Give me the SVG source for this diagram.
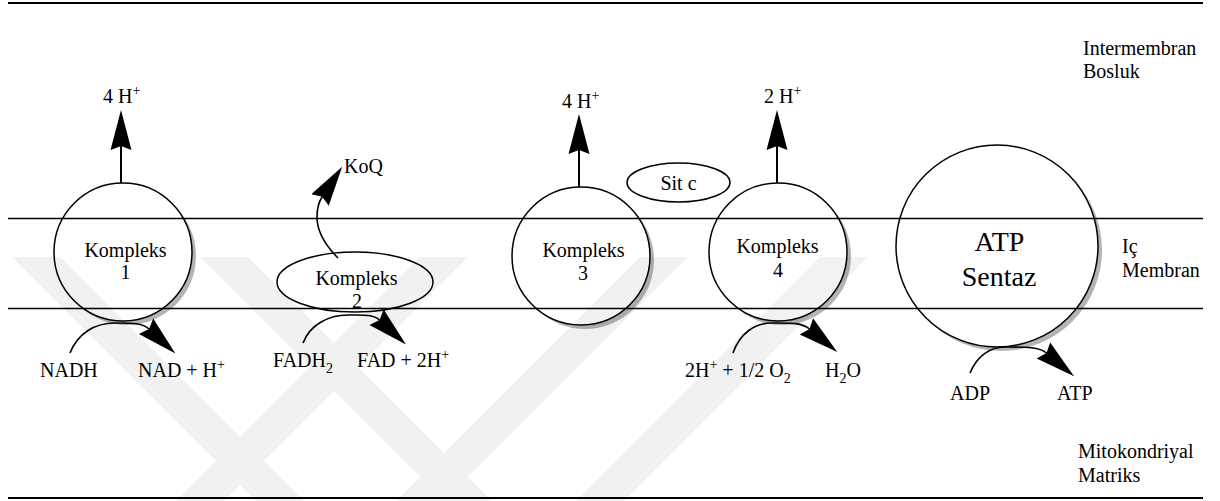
<svg xmlns="http://www.w3.org/2000/svg" width="1220" height="501" viewBox="0 0 1220 501">
  <style>
    text { font-family: 'Liberation Serif', 'Times New Roman', 'DejaVu Serif', serif; font-size: 20px; fill: #000; }
    .big { font-size: 28px; }
    .mid { text-anchor: middle; }
    .sup { font-size: 14px; }
    .rule { stroke: #000; stroke-width: 2; fill: none; }
    .mem { stroke: #000; stroke-width: 1.5; fill: none; }
    .body { fill: #fff; stroke: #000; stroke-width: 1.5; }
    .shade { fill: #b4b4b4; }
    .link { stroke: #000; stroke-width: 1.6; fill: none; marker-end: url(#head); }
    .shaft { stroke: #000; stroke-width: 2; fill: none; marker-end: url(#head); }
  </style>
  <defs>
    <!-- solid arrowhead; the path ends at the notch, the tip sits 36px further on -->
    <marker id="head" markerUnits="userSpaceOnUse" viewBox="0 -12 42 24" markerWidth="42" markerHeight="24" refX="4" refY="0" orient="auto">
      <path d="M40,0 L0,-10.5 L4,0 L0,10.5 Z" fill="#000"/>
    </marker>
  </defs>

  <rect width="1220" height="501" fill="#fff"/>

  <g font-family="Liberation Serif, serif">
  <!-- protein complexes -->
  <g id="kompleks1">
    <circle class="shade" cx="127" cy="256" r="69"/>
    <circle class="body" cx="123" cy="252" r="69"/>
    <text class="mid" x="125.5" y="257">Kompleks</text>
    <text class="mid" x="125.5" y="279">1</text>
  </g>
  <g id="kompleks2">
    <ellipse class="body" cx="355" cy="282" rx="78" ry="30"/>
    <text class="mid" x="356.5" y="285">Kompleks</text>
    <text class="mid" x="357" y="308">2</text>
  </g>
  <g id="kompleks3">
    <circle class="shade" cx="585" cy="260" r="69"/>
    <circle class="body" cx="581" cy="256" r="69"/>
    <text class="mid" x="583.5" y="257">Kompleks</text>
    <text class="mid" x="583" y="280">3</text>
  </g>
  <g id="sitc">
    <ellipse class="body" cx="678.5" cy="182.5" rx="51.5" ry="19.5"/>
    <text class="mid" x="678.5" y="190">Sit c</text>
  </g>
  <g id="kompleks4">
    <circle class="shade" cx="782" cy="256" r="69"/>
    <circle class="body" cx="778" cy="252" r="69"/>
    <text class="mid" x="777.5" y="253">Kompleks</text>
    <text class="mid" x="778" y="277">4</text>
  </g>
  <g id="atpsentaz">
    <circle class="shade" cx="1001" cy="250" r="101"/>
    <circle class="body" cx="997" cy="246" r="101"/>
    <text class="big mid" x="999.5" y="251">ATP</text>
    <text class="big mid" x="999" y="286">Sentaz</text>
  </g>

  <!-- membrane and compartment boundaries -->
  <g id="membrane">
    <line class="rule" x1="8" y1="3" x2="1203" y2="3"/>
    <line class="mem" x1="8" y1="218.5" x2="1203" y2="218.5"/>
    <line class="mem" x1="8" y1="308.5" x2="1203" y2="308.5"/>
    <line class="rule" x1="8" y1="498" x2="1203" y2="498"/>
  </g>

  <!-- connectors -->
  <g id="connectors">
    <path class="shaft" d="M121,183 V146"/>
    <path class="shaft" d="M579,187 V150"/>
    <path class="shaft" d="M777,183 V146"/>
    <path class="link" d="M338,258 C326,246 317,231 317,217 C317,209 318,203 322.2,196.7"/>
    <path class="link" d="M70,353 C78,333 95,323 115,323 C130,323 142,322.5 149,329"/>
    <path class="link" d="M303,343 C310,325 328,315 348,315 C362,315 373,314 379.5,320"/>
    <path class="link" d="M733,353 C740,333 755,323 772,323 C788,323 801,322 809.5,329"/>
    <path class="link" d="M970,373 C977,356 990,347 1005,347 C1025,347 1039,346.7 1046.5,353"/>
  </g>

  <!-- species labels -->
  <g id="labels">
    <text x="103" y="103">4 H<tspan class="sup" dy="-8">+</tspan></text>
    <text x="562" y="108">4 H<tspan class="sup" dy="-8">+</tspan></text>
    <text x="764" y="103">2 H<tspan class="sup" dy="-8">+</tspan></text>
    <text x="344" y="173">KoQ</text>
    <text x="40" y="377">NADH</text>
    <text x="138" y="377">NAD + H<tspan class="sup" dy="-8">+</tspan></text>
    <text x="273" y="367">FADH<tspan class="sup" dy="6">2</tspan></text>
    <text x="357" y="367">FAD + 2H<tspan class="sup" dy="-8">+</tspan></text>
    <text x="685" y="377">2H<tspan class="sup" dy="-8">+</tspan><tspan dy="8"> + 1/2 O</tspan><tspan class="sup" dy="6">2</tspan></text>
    <text x="825" y="377">H<tspan class="sup" dy="6">2</tspan><tspan dy="-6">O</tspan></text>
    <text x="950" y="400">ADP</text>
    <text x="1057" y="400">ATP</text>
  </g>

  <!-- compartment names -->
  <g id="regions">
    <text x="1083" y="55">Intermembran</text>
    <text x="1083" y="78">Bosluk</text>
    <text x="1122" y="253">Iç</text>
    <text x="1122" y="277">Membran</text>
    <text x="1078" y="458">Mitokondriyal</text>
    <text x="1078" y="482">Matriks</text>
  </g>
  </g>

  <!-- faint striped emblem laid over the lower half -->
  <g id="emblem" fill="#000" opacity="0.05">
    <polygon points="12,257 60,257 304,501 256,501"/>
    <polygon points="420,257 468,257 224,501 176,501"/>
    <polygon points="200,257 248,257 492,501 444,501"/>
    <polygon points="640,257 688,257 444,501 396,501"/>
    <polygon points="820,257 868,257 624,501 576,501"/>
  </g>
</svg>
